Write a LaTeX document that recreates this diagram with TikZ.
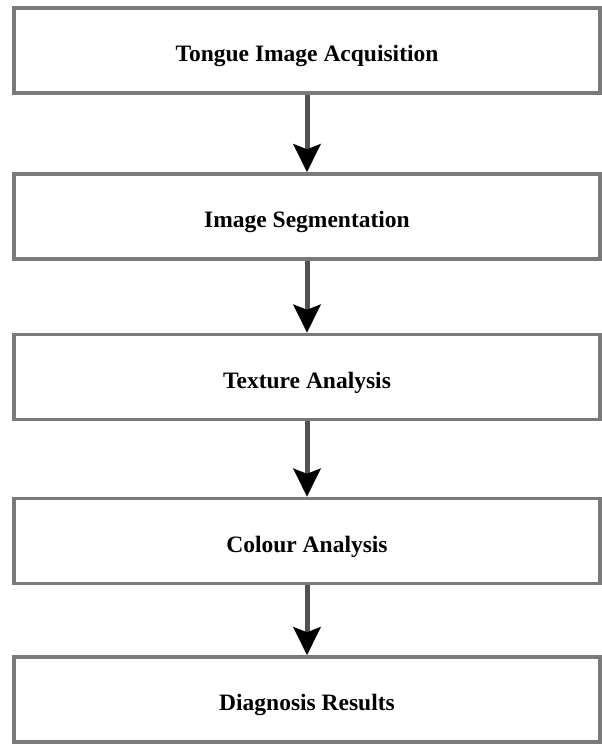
\documentclass[tikz,border=0pt]{standalone}
\usepackage{fontspec}
\setmainfont{Liberation Serif}
\usetikzlibrary{arrows.meta}
\begin{document}
\begin{tikzpicture}[x=1pt,y=-1pt,
  stepbox/.style={draw=black!52,line width=3.5pt,minimum width=586pt,minimum height=85pt,inner sep=0pt,fill=white},
  steptext/.style={anchor=base,font=\fontsize{23.5}{26}\selectfont\bfseries,inner sep=0pt},
  flow/.style={draw=black!68,line width=5pt,-{Stealth[width=27pt,length=28pt,inset=5pt,color=black]}}]
\useasboundingbox[fill=white] (0,0) rectangle (602,745);
\node[stepbox] (a) at (307,50.5) {};
\node[stepbox] (b) at (307,216.5) {};
\node[stepbox] (c) at (307,377) {};
\node[stepbox] (d) at (307,541) {};
\node[stepbox] (e) at (307,699.5) {};
\node[steptext] (ta) at ([yshift=-11pt]a.center) {Tongue Image Acquisition};
\node[steptext] (tb) at ([yshift=-11pt]b.center) {Image Segmentation};
\node[steptext] (tc) at ([yshift=-11pt]c.center) {Texture Analysis};
\node[steptext] (td) at ([yshift=-11pt]d.center) {Colour Analysis};
\node[steptext] (te) at ([yshift=-11pt]e.center) {Diagnosis Results};
\draw[flow] (a) -- (b);
\draw[flow] (b) -- (c);
\draw[flow] (c) -- (d);
\draw[flow] (d) -- (e);
\end{tikzpicture}
\end{document}
